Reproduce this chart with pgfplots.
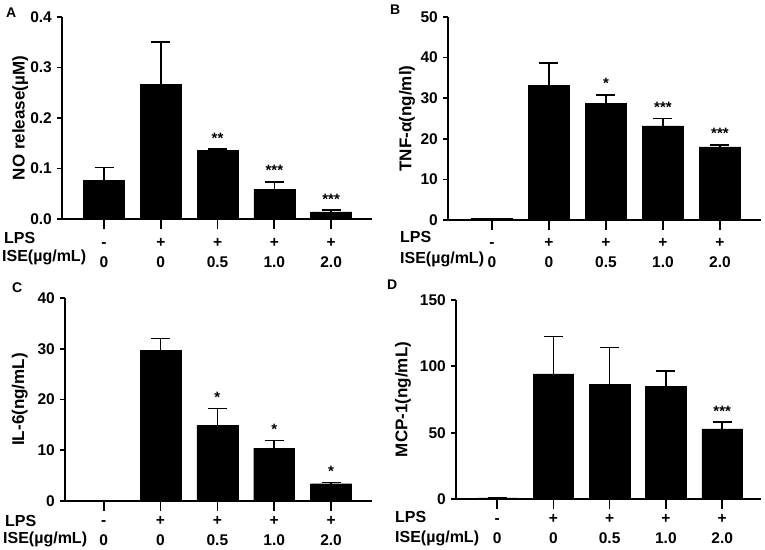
\documentclass[border=0pt]{standalone}
\usepackage{pgfplots}
\pgfplotsset{compat=1.18}
\usepackage{fontspec}
\setmainfont{Liberation Sans}

\pgfplotsset{
 panel/.style={
  scale only axis,
  axis lines=left,
  axis line style={-, line width=1.7bp},
  every tick/.style={black, line width=1.7bp},
  tick align=outside,
  major tick length=10bp,
  ytick style={/pgfplots/major tick length=5bp},
  xtick={0,1,2,3,4},
  xticklabels={{-\\0},{+\\0},{+\\0.5},{+\\1.0},{+\\2.0}},
  xticklabel style={font=\bfseries\fontsize{15.5bp}{20bp}\selectfont, align=center, anchor=base, inner sep=0pt},
  yticklabel style={font=\bfseries\fontsize{15.5bp}{18bp}\selectfont, inner sep=0pt, anchor=east},
  /pgf/number format/assume math mode=true,
  ylabel style={font=\bfseries\fontsize{17bp}{18bp}\selectfont, anchor=center},
  ymin=0,
  minor tick num=0,
  clip=false,
 },
 bars/.style={ybar, bar width=0.72, bar shift=0pt, fill=black, draw=black,
   error bars/.cd, y dir=plus, y explicit,
   error bar style={line width=1.5bp, black},
   error mark options={rotate=90, mark size=9.5bp, line width=1.5bp, black}},
 stars/.style={draw=none, mark=none, nodes near coords, point meta=explicit symbolic,
   every node near coord/.style={font=\bfseries\fontsize{15bp}{15bp}\selectfont, anchor=base, yshift=6bp, inner sep=0pt}},
}

\begin{document}
\begin{tikzpicture}
\useasboundingbox (0,0) rectangle (765bp,550bp);

% Panel A
\begin{axis}[panel, at={(62bp,331bp)}, anchor=south west, width=310bp, height=202bp,
  xmin=-0.74, xmax=4.72, ymax=0.4, ytick={0,0.1,0.2,0.3,0.4},
  xticklabel style={yshift=-38.5bp},
  yticklabel style={/pgf/number format/.cd, fixed, fixed zerofill, precision=1},
  ylabel={NO release(µM)}, ylabel style={at={(axis description cs:-0.135,0.5)}}]
\addplot[bars] coordinates {(0,0.077) +- (0,0.0245) (1,0.2667) +- (0,0.084) (2,0.1366) +- (0,0.002) (3,0.0594) +- (0,0.014) (4,0.0139) +- (0,0.004)};
\addplot[stars] coordinates {(2,0.1386) [**] (3,0.0733) [***] (4,0.0178) [***]};
\end{axis}

% Panel B
\begin{axis}[panel, at={(448bp,330bp)}, anchor=south west, width=313bp, height=203bp,
  xmin=-0.77, xmax=4.72, ymax=50, ytick={0,10,20,30,40,50},
  xticklabel style={yshift=-38bp},
  ylabel={TNF-α(ng/ml)}, ylabel style={at={(axis description cs:-0.131,0.5)}}]
\addplot[bars] coordinates {(0,0.4) +- (0,0) (1,33.2) +- (0,5.5) (2,28.7) +- (0,2.1) (3,23.2) +- (0,1.8) (4,18.0) +- (0,0.5)};
\addplot[stars] coordinates {(2,30.8) [*] (3,25.0) [***] (4,18.5) [***]};
\end{axis}

% Panel C
\begin{axis}[panel, at={(65bp,49bp)}, anchor=south west, width=307bp, height=203bp,
  xmin=-0.68, xmax=4.72, ymax=40, ytick={0,10,20,30,40},
  xticklabel style={yshift=-34bp},
  ylabel={IL-6(ng/mL)}, ylabel style={at={(axis description cs:-0.147,0.5)}}]
\addplot[bars] coordinates {(0,0) +- (0,0) (1,29.7) +- (0,2.3) (2,14.9) +- (0,3.3) (3,10.4) +- (0,1.5) (4,3.4) +- (0,0.2)};
\addplot[stars] coordinates {(2,18.2) [*] (3,11.9) [*] (4,3.6) [*]};
\end{axis}

% Panel D
\begin{axis}[panel, at={(456bp,51bp)}, anchor=south west, width=305bp, height=199bp,
  xmin=-0.73, xmax=4.69, ymax=150, ytick={0,50,100,150},
  xticklabel style={yshift=-34bp},
  ylabel={MCP-1(ng/mL)}, ylabel style={at={(axis description cs:-0.174,0.5)}}]
\addplot[bars] coordinates {(0,0.8) +- (0,0) (1,94.4) +- (0,28.2) (2,86.5) +- (0,27.6) (3,84.7) +- (0,11.8) (4,52.8) +- (0,5.2)};
\addplot[stars] coordinates {(4,58.0) [***]};
\end{axis}

% panel letters and row labels
\begin{scope}[every node/.style={inner sep=0pt, font=\bfseries\fontsize{16bp}{16bp}\selectfont}]
\node[anchor=north west, font=\bfseries\fontsize{14bp}{14bp}\selectfont] at (6bp,542bp) {A};
\node[anchor=north west, font=\bfseries\fontsize{14bp}{14bp}\selectfont] at (390bp,545bp) {B};
\node[anchor=north west, font=\bfseries\fontsize{14bp}{14bp}\selectfont] at (12bp,267bp) {C};
\node[anchor=north west, font=\bfseries\fontsize{14bp}{14bp}\selectfont] at (387bp,270bp) {D};
\node[anchor=base west] at (4bp,306bp) {LPS};
\node[anchor=base west] at (2bp,288bp) {ISE(µg/mL)};
\node[anchor=base west] at (400bp,307bp) {LPS};
\node[anchor=base west] at (400bp,286bp) {ISE(µg/mL)};
\node[anchor=base west] at (5bp,24bp) {LPS};
\node[anchor=base west] at (3bp,7bp) {ISE(µg/mL)};
\node[anchor=base west] at (395bp,28bp) {LPS};
\node[anchor=base west] at (395bp,8bp) {ISE(µg/mL)};
\end{scope}
\end{tikzpicture}
\end{document}
